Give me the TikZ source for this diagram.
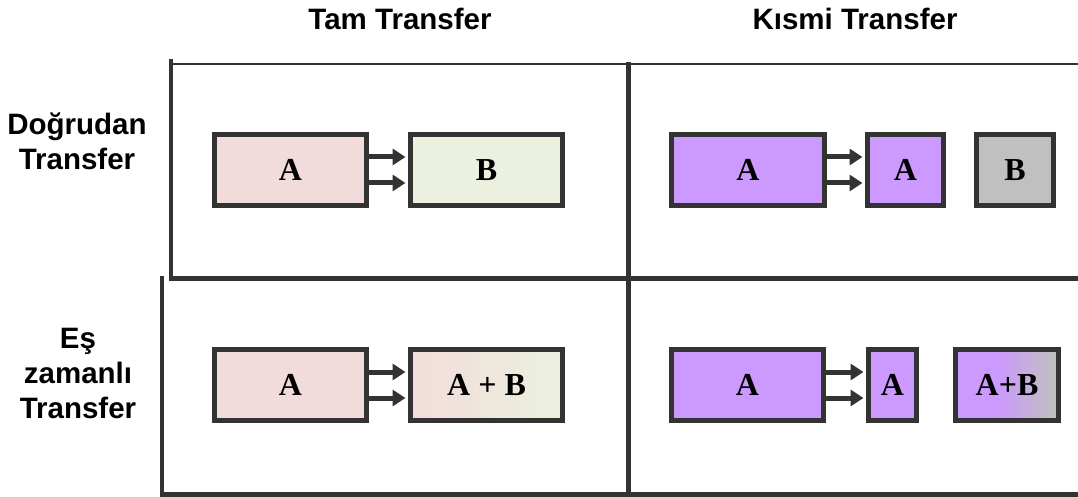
\documentclass[tikz,border=0pt]{standalone}
\usepackage{fontspec}
\setmainfont{Liberation Serif}
\newfontfamily\arialf{Liberation Sans}
\usetikzlibrary{arrows.meta}
\definecolor{edge}{HTML}{333333}
\definecolor{kpink}{HTML}{F2DCDB}
\definecolor{kgreen}{HTML}{EBF1DE}
\definecolor{kpurple}{HTML}{CC99FF}
\definecolor{kgray}{HTML}{C0C0C0}
\pgfdeclarehorizontalshading{pgshade}{100bp}{color(0bp)=(kpurple); color(25bp)=(kpurple); color(45bp)=(kpurple); color(73bp)=(kgray); color(100bp)=(kgray)}
\tikzset{
  box/.style={draw=edge, line width=5pt, rectangle, inner sep=0pt, minimum height=71pt,
    font=\fontsize{32}{34}\selectfont\bfseries},
  lbl/.style={font=\arialf\fontsize{29.5}{35}\selectfont\bfseries, align=center, inner sep=0pt},
  grid/.style={draw=edge},
  arr/.style={draw=edge, line width=5pt, -{Triangle[length=13pt,width=16pt]}, shorten >=2.5pt}
}
\begin{document}
\begin{tikzpicture}[x=1pt,y=-1pt]
\useasboundingbox (0,0) rectangle (1078,497);
% grid
\draw[grid, line width=4pt] (171,59) -- (171,278);
\draw[grid, line width=4pt] (162,276) -- (162,496);
\draw[grid, line width=2pt] (169,64) -- (1078,64);
\draw[grid, line width=5pt] (628,62) -- (628,497);
\draw[grid, line width=5pt] (169,278) -- (1078,278);
\draw[grid, line width=5pt] (160,494) -- (1078,494);
% headers
\node[lbl, anchor=base] (h1) at (400,30) {Tam Transfer};
\node[lbl, anchor=base] (h2) at (855,30) {Kısmi Transfer};
\node[lbl, anchor=base] (r1) at (77,170) {Doğrudan\\Transfer};
\node[lbl, anchor=base] (r2) at (78,418) {Eş\\zamanlı\\Transfer};
% row 1 left
\node[box, fill=kpink, minimum width=152pt] (l1a) at (290.5,170) {A};
\node[box, fill=kgreen, minimum width=152pt] (l1b) at (486.5,170) {B};
% row 2 left
\node[box, fill=kpink, minimum width=152pt] (l2a) at (290.5,385) {A};
\node[box, left color=kpink, right color=kgreen, minimum width=152pt] (l2ab) at (486.5,385) {A + B};
% row 1 right
\node[box, fill=kpurple, minimum width=153pt] (r1a) at (748,170) {A};
\node[box, fill=kpurple, minimum width=76pt] (r1a2) at (905.5,170) {A};
\node[box, fill=kgray, minimum width=77pt] (r1b) at (1015,170) {B};
% row 2 right
\node[box, fill=kpurple, minimum width=152pt] (r2a) at (747.5,385) {A};
\node[box, fill=kpurple, minimum width=48pt] (r2a2) at (892.5,385) {A};
\node[box, shading=pgshade, minimum width=103pt] (r2ab) at (1007,385) {A+B};
% arrows
\foreach \s/\t in {l1a/l1b, l2a/l2ab, r1a/r1a2, r2a/r2a2}{
  \draw[arr] ([yshift=13pt]\s.east) -- ([yshift=13pt]\t.west);
  \draw[arr] ([yshift=-13pt]\s.east) -- ([yshift=-13pt]\t.west);
}
\end{tikzpicture}
\end{document}
